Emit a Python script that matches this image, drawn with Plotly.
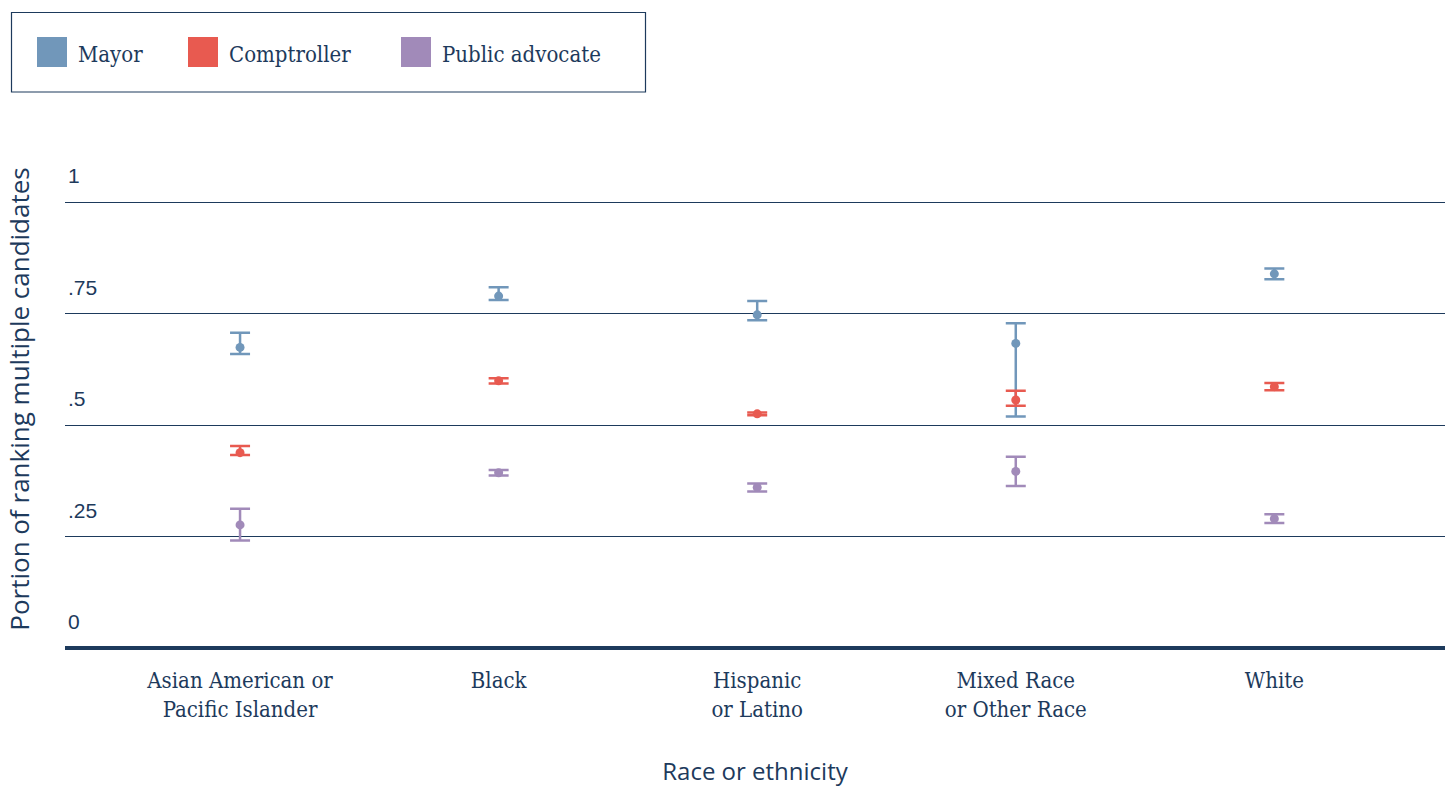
import plotly.graph_objects as go

categories = ["Asian American or<br>Pacific Islander", "Black", "Hispanic<br>or Latino",
              "Mixed Race<br>or Other Race", "White"]
series_names = ["Mayor", "Comptroller", "Public advocate"]
series_colors = ["#7197ba", "#e85a50", "#a18ab9"]

mayor_est = [0.674, 0.789, 0.747, 0.683, 0.839]
mayor_hi = [0.707, 0.809, 0.778, 0.728, 0.851]
mayor_lo = [0.659, 0.780, 0.735, 0.519, 0.827]

comp_est = [0.438, 0.599, 0.525, 0.556, 0.586]
comp_hi = [0.453, 0.605, 0.528, 0.577, 0.594]
comp_lo = [0.433, 0.593, 0.522, 0.543, 0.578]

pa_est = [0.276, 0.393, 0.360, 0.396, 0.290]
pa_hi = [0.312, 0.399, 0.369, 0.429, 0.300]
pa_lo = [0.241, 0.387, 0.351, 0.363, 0.280]

y_tickvals = [0, 0.25, 0.5, 0.75, 1]
y_ticktext = ["0", ".25", ".5", ".75", "1"]

NAVY = "#1d3a5c"
W, H = 1445, 787
ML, MR, MT, MB = 65, 0, 150, 139
PW, PH = W - ML - MR, H - MT - MB

def px2x(px):
    return (px - ML) / PW

def py2y(py):
    return (H - MB - py) / PH

fig = go.Figure()
for name, color, est, hi, lo in zip(series_names, series_colors,
                                    [mayor_est, comp_est, pa_est],
                                    [mayor_hi, comp_hi, pa_hi],
                                    [mayor_lo, comp_lo, pa_lo]):
    fig.add_trace(go.Scatter(
        x=categories, y=est, mode="markers", name=name,
        marker=dict(color=color, size=9),
        error_y=dict(type="data", symmetric=False,
                     array=[h - e for h, e in zip(hi, est)],
                     arrayminus=[e - l for e, l in zip(est, lo)],
                     color=color, thickness=2.5, width=10),
        showlegend=False,
    ))

# custom legend
shapes = [dict(type="rect", xref="paper", yref="paper",
               x0=px2x(11.5), x1=px2x(645.5), y0=py2y(92), y1=py2y(12.5),
               line=dict(color=NAVY, width=1.2), fillcolor="white", layer="above")]
annotations = []
legend_sq_left = [37, 188, 401]
for name, color, left in zip(series_names, series_colors, legend_sq_left):
    shapes.append(dict(type="rect", xref="paper", yref="paper",
                       x0=px2x(left), x1=px2x(left + 30), y0=py2y(67), y1=py2y(37),
                       line=dict(width=0), fillcolor=color, layer="above"))
    annotations.append(dict(xref="paper", yref="paper", x=px2x(left + 39), y=py2y(54),
                            xanchor="left", yanchor="middle", text=name, showarrow=False,
                            font=dict(family="DejaVu Serif Condensed, DejaVu Serif", size=22,
                                      color=NAVY)))

fig.update_layout(
    width=W, height=H,
    margin=dict(l=ML, r=MR, t=MT, b=MB),
    plot_bgcolor="white", paper_bgcolor="white",
    shapes=shapes, annotations=annotations,
    showlegend=False,
    xaxis=dict(
        type="category", range=[-0.677, 4.66],
        showgrid=False, showline=False, zeroline=False,
        ticks="outside", ticklen=13, tickcolor="rgba(0,0,0,0)",
        tickfont=dict(family="DejaVu Serif Condensed, DejaVu Serif", size=22, color=NAVY),
        title=dict(text="Race or ethnicity", standoff=42,
                   font=dict(family="Open Sans", size=24, color=NAVY)),
    ),
    yaxis=dict(
        range=[0, PH / 446.0],
        tickvals=y_tickvals, ticktext=y_ticktext,
        showgrid=True, gridcolor=NAVY, gridwidth=1,
        zeroline=True, zerolinecolor=NAVY, zerolinewidth=4,
        showline=False, ticks="",
        ticklabelposition="inside", ticklabelshift=-26, ticklabelstandoff=0,
        tickfont=dict(family="Liberation Sans", size=21, color=NAVY),
        title=dict(text="Portion of ranking multiple candidates", standoff=30,
                   font=dict(family="Open Sans", size=26, color=NAVY)),
    ),
)

fig.write_html("out.html")
